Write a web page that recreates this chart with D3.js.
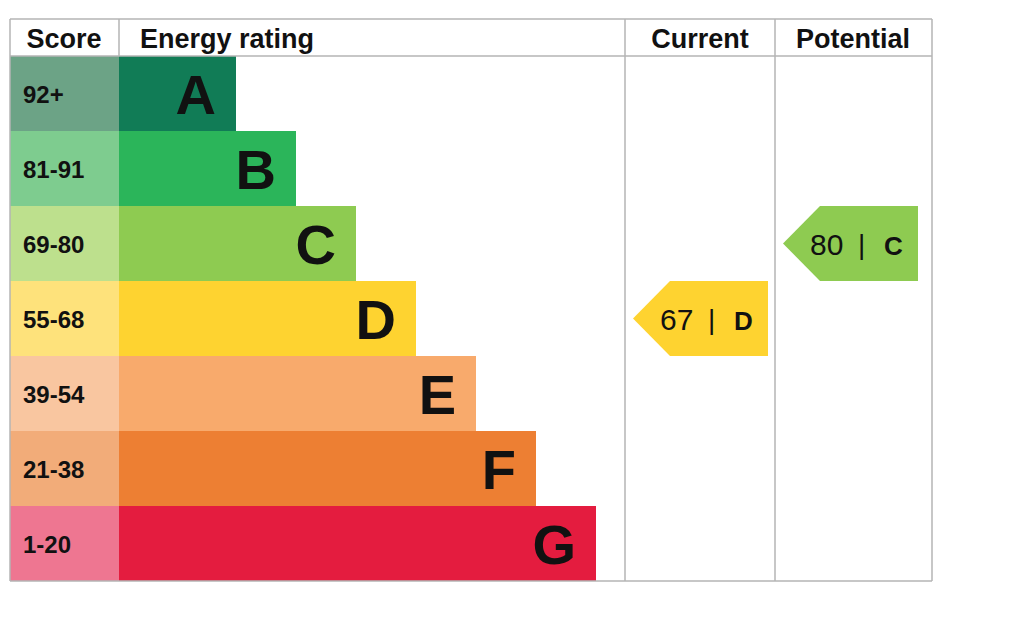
<!DOCTYPE html>
<html><head><meta charset="utf-8">
<script src="https://cdn.jsdelivr.net/npm/d3@7"></script>
<style>body{margin:0;background:#fff}text{font-family:"Liberation Sans",Arial,sans-serif}</style>
</head><body><div id="chart"></div>
<script>
// rating bands
var bands = ["A", "B", "C", "D", "E", "F", "G"];
var scores = ["92+", "81-91", "69-80", "55-68", "39-54", "21-38", "1-20"];
var bandColors = ["#117c56", "#2bb55a", "#8ecb51", "#fed330", "#f8aa6c", "#ed7f33", "#e41c3f"];
var scoreColors = ["#6ca386", "#7ecc8f", "#bde08d", "#fee27b", "#f9c6a0", "#f2ac79", "#ee7691"];
var bandLength = [1, 2, 3, 4, 5, 6, 7];
var current = {value: 67, band: "D"};
var potential = {value: 80, band: "C"};

var svg = d3.select("#chart").append("svg").attr("width", 1024).attr("height", 625);

var tableTop = 56, rowH = 75, left = 10;
var y = d3.scaleBand().domain(bands).range([tableTop, tableTop + rowH * bands.length]);
// bar ends run 236..596, 60px per step
var barX = d3.scaleLinear().domain([1, 7]).range([236, 596]);

// score column
svg.selectAll(".score").data(bands).enter().append("rect")
  .attr("x", left).attr("y", d => y(d)).attr("width", 109).attr("height", y.bandwidth())
  .attr("fill", (d, i) => scoreColors[i]);
svg.selectAll(".scoret").data(bands).enter().append("text")
  .attr("x", 23).attr("y", d => y(d) + y.bandwidth() / 2 + 9)
  .attr("font-size", 24).attr("font-weight", "bold").attr("fill", "#111")
  .text((d, i) => scores[i]);

// bars
svg.selectAll(".bar").data(bands).enter().append("rect")
  .attr("x", 119).attr("y", d => y(d)).attr("height", y.bandwidth())
  .attr("width", (d, i) => barX(bandLength[i]) - 119)
  .attr("fill", (d, i) => bandColors[i]);
svg.selectAll(".barl").data(bands).enter().append("text")
  .attr("x", (d, i) => barX(bandLength[i]) - 20).attr("y", d => y(d) + y.bandwidth() / 2 + 20)
  .attr("text-anchor", "end").attr("font-size", 56).attr("font-weight", "bold").attr("fill", "#111")
  .text(d => d);

// grid lines
var g = "#b5b5b5";
var cols = [10, 119, 625, 775, 932];
cols.forEach(function(c, i) {
  svg.append("line").attr("x1", c).attr("x2", c).attr("y1", 19)
    .attr("y2", (i == 1) ? 56 : 581).attr("stroke", g).attr("stroke-width", 1.5);
});
[19, 56, 581].forEach(function(r) {
  svg.append("line").attr("x1", 10).attr("x2", 932).attr("y1", r).attr("y2", r).attr("stroke", g).attr("stroke-width", 1.5);
});

// headers
var heads = [["Score", 64, "middle"], ["Energy rating", 140, "start"], ["Current", 700, "middle"], ["Potential", 853, "middle"]];
svg.selectAll(".head").data(heads).enter().append("text")
  .attr("x", d => d[1]).attr("y", 48).attr("text-anchor", d => d[2])
  .attr("font-size", 27).attr("font-weight", "bold").attr("fill", "#111").text(d => d[0]);

// arrows
function arrow(r, colLeft) {
  var i = bands.indexOf(r.band);
  var t = y(r.band), h = y.bandwidth(), x0 = colLeft + 8, x1 = colLeft + 45, x2 = colLeft + 143;
  svg.append("path")
    .attr("d", `M${x0},${t + h / 2}L${x1},${t}L${x2},${t}L${x2},${t + h}L${x1},${t + h}Z`)
    .attr("fill", bandColors[i]);
  svg.append("text").attr("x", x0 + 27).attr("y", t + h / 2 + 11)
    .attr("font-size", 30).attr("fill", "#111").text(r.value);
  svg.append("text").attr("x", x0 + 75).attr("y", t + h / 2 + 10)
    .attr("font-size", 28).attr("fill", "#111").text("|");
  svg.append("text").attr("x", x0 + 101).attr("y", t + h / 2 + 11)
    .attr("font-size", 26).attr("font-weight", "bold").attr("fill", "#111").text(r.band);
}
arrow(current, 625);
arrow(potential, 775);
</script></body></html>
